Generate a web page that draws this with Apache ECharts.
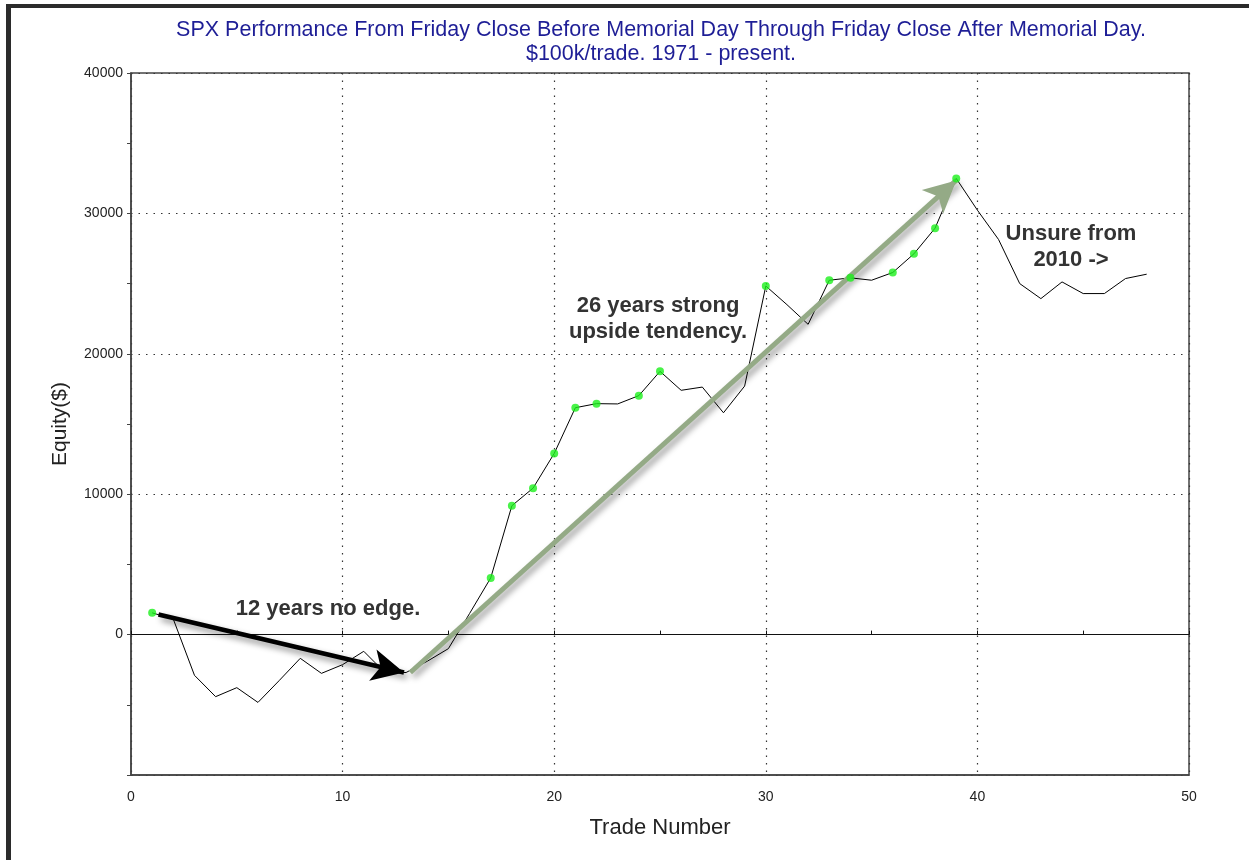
<!DOCTYPE html>
<html>
<head>
    <meta charset="utf-8">
    <script type="text/javascript" src="https://cdn.jsdelivr.net/npm/echarts@6/dist/echarts.min.js"></script>
</head>
<body style="margin:0; background-color:#fff">
<div id="main" style="width:1249px; height:860px;"></div>
<script type="text/javascript">
    // equity after each trade (trade 1..48)
    var trades = [];
    for (var i = 1; i <= 48; i++) trades.push(i);
    var equity = [
        1550, 1100, -2900, -4420, -3780, -4830, -3280, -1690, -2760, -2140,
        -1190, -2700, -2700, -1900, -1000, 1500, 4040, 9180, 10430, 12900,
        16160, 16450, 16430, 17020, 18750, 17400, 17630, 15800, 17700, 24830,
        23500, 22100, 25240, 25410, 25240, 25790, 27120, 28950, 32490, 30230,
        28140, 25000, 23930, 25120, 24290, 24290, 25360, 25670
    ];
    // trades that set a new equity high (green dots)
    var highTrades = [1, 17, 18, 19, 20, 21, 22, 24, 25, 30, 33, 34, 36, 37, 38, 39];

    var xTicks = [0, 10, 20, 30, 40, 50];
    var yTicks = [-10000, 0, 10000, 20000, 30000, 40000];

    // annotation arrows, in data coordinates
    var noEdgeArrow = [[1.3, 1430], [12.9, -2700]];
    var trendArrow = [[13.2, -2700], [39.0, 32350]];

    var lineData = trades.map(function (t, i) { return [t, equity[i]]; });
    var highData = highTrades.map(function (t) { return [t, equity[t - 1]]; });

    var noteFont = 'bold 22px "Liberation Sans", Arial';

    var myChart = echarts.init(document.getElementById('main'));
    var option = {
        animation: false,
        textStyle: { fontFamily: 'Liberation Sans, Arial, sans-serif' },
        title: {
            text: 'SPX Performance From Friday Close Before Memorial Day Through Friday Close After Memorial Day.\n$100k/trade. 1971 - present.',
            left: 656,
            top: 13,
            textAlign: 'center',
            textStyle: { color: '#1e1e96', fontSize: 21.5, fontWeight: 'normal', lineHeight: 24 }
        },
        grid: {
            left: 131, right: 60, top: 73, bottom: 85,
            show: true, borderColor: '#444', borderWidth: 1.5
        },
        xAxis: [{
            type: 'value',
            min: xTicks[0], max: xTicks[xTicks.length - 1], interval: 10,
            name: 'Trade Number', nameLocation: 'middle', nameGap: 42,
            nameTextStyle: { fontSize: 22, color: '#222' },
            axisLine: { onZero: false, lineStyle: { color: '#444', width: 1.5 } },
            axisTick: { show: false },
            axisLabel: { margin: 15, fontSize: 14, color: '#222' },
            splitLine: { show: true, lineStyle: { color: '#333', type: [1.5, 6], width: 1.2 } }
        }, {
            type: 'value', position: 'bottom',
            min: 0, max: 50, interval: 5,
            axisLine: { onZero: true, lineStyle: { color: '#111', width: 1.2 } },
            axisTick: { show: true, inside: true, length: 4, lineStyle: { color: '#111' } },
            axisLabel: { show: false },
            splitLine: { show: false }
        }],
        yAxis: {
            type: 'value',
            min: yTicks[0], max: yTicks[yTicks.length - 1], interval: 10000,
            name: 'Equity($)', nameLocation: 'middle', nameGap: 60,
            nameTextStyle: { fontSize: 21, color: '#222' },
            axisLine: { show: true, lineStyle: { color: '#444', width: 1.5 } },
            axisTick: { show: true, length: 4, lineStyle: { color: '#444' } },
            minorTick: { show: true, splitNumber: 2, length: 4, lineStyle: { color: '#444' } },
            axisLabel: {
                margin: 8, fontSize: 14, color: '#222',
                formatter: function (v) { return v < 0 ? '' : String(v); }
            },
            splitLine: { show: true, lineStyle: { color: '#333', type: [1.5, 6], width: 1.2 } }
        },
        series: [{
            type: 'line',
            data: lineData,
            showSymbol: false,
            lineStyle: { color: '#000', width: 1 },
            z: 3,
            markLine: {
                silent: true,
                animation: false,
                label: { show: false },
                data: [
                    [{
                        coord: noEdgeArrow[0], symbol: 'none',
                        lineStyle: { color: '#000', width: 4.5, type: 'solid',
                            shadowColor: 'rgba(0,0,0,0.45)', shadowBlur: 6, shadowOffsetX: 3, shadowOffsetY: 4 }
                    }, { coord: noEdgeArrow[1], symbol: 'arrow', symbolSize: [24, 32] }],
                    [{
                        coord: trendArrow[0], symbol: 'none',
                        lineStyle: { color: '#94aa86', width: 5, type: 'solid', opacity: 1,
                            shadowColor: 'rgba(0,0,0,0.4)', shadowBlur: 6, shadowOffsetX: 3, shadowOffsetY: 4 }
                    }, { coord: trendArrow[1], symbol: 'arrow', symbolSize: [24, 32] }]
                ]
            }
        }, {
            type: 'scatter',
            data: highData,
            symbolSize: 8,
            itemStyle: { color: '#1cf01c' },
            z: 5
        }],
        graphic: [
            { type: 'rect', shape: { x: 6, y: 4, width: 1243, height: 4 }, style: { fill: '#2b2b2b' } },
            { type: 'rect', shape: { x: 6, y: 4, width: 5, height: 856 }, style: { fill: '#2b2b2b' } },
            { type: 'text', x: 328, y: 598, style: { text: '12 years no edge.', fill: '#333', align: 'center', font: noteFont } },
            { type: 'text', x: 658, y: 293, style: { text: '26 years strong\nupside tendency.', fill: '#333', align: 'center', lineHeight: 26, font: noteFont } },
            { type: 'text', x: 1071, y: 221, style: { text: 'Unsure from\n2010 ->', fill: '#333', align: 'center', lineHeight: 26, font: noteFont } }
        ]
    };
    myChart.setOption(option);
</script>
</body>
</html>
